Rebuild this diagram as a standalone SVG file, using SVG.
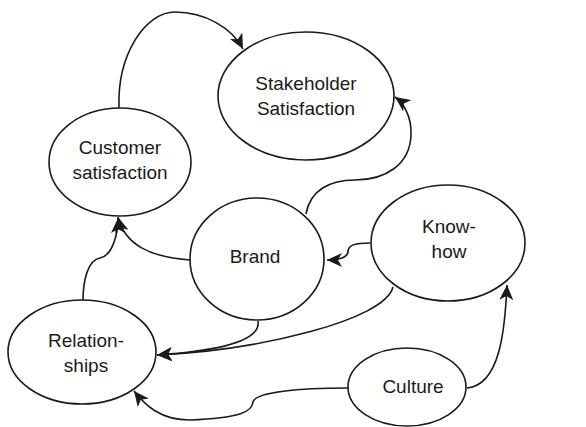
<svg xmlns="http://www.w3.org/2000/svg" width="586" height="427" viewBox="0 0 586 427">
<style>
.n{fill:#fff;stroke:#1a1a1a;stroke-width:1.6}
.t{font-family:"Liberation Sans",Arial,sans-serif;font-size:19px;fill:#1a1a1a;text-anchor:middle}
.c{fill:none;stroke:#1a1a1a;stroke-width:1.6;marker-end:url(#ah)}
.c0{fill:none;stroke:#1a1a1a;stroke-width:1.6}
</style>
<defs>
<marker id="ah" markerUnits="userSpaceOnUse" markerWidth="16" markerHeight="14" viewBox="0 0 16 14" refX="15" refY="7" orient="auto">
<path d="M0,0 L15,7 L0,14 L4,7 z" fill="#1a1a1a"/>
</marker>
</defs>
<rect width="586" height="427" fill="#fff"/>
<g id="connectors">
<path class="c" d="M119,108 C117,55 145,12 175,12 C205,12 232,28 243,49"/>
<path class="c" d="M306,214 C310,190 330,180 355,180 C385,180 410,165 411,135 C412,115 402,102 395,97"/>
<path class="c" d="M190,260 C150,257 125,245 118,217"/>
<path class="c" d="M83,301 C83,280 88,260 100,258 C112,256 118,235 118,218"/>
<path class="c" d="M370,243 C355,243 348,245 348,252 C347,258 340,260 327,260"/>
<path class="c" d="M258,321 C262,345 200,352 157,355"/>
<path class="c" d="M393,287 C385,320 260,350 157,355"/>
<path class="c" d="M467,388 C500,385 505,330 507,285"/>
<path class="c" d="M348,388 C300,388 255,392 253,402 C252,412 240,418 190,420 C160,420 145,405 134,391"/>
</g>
<g id="stakeholder">
<ellipse class="n" cx="306" cy="96" rx="88" ry="64"/>
<text class="t" x="306" y="90">Stakeholder</text>
<text class="t" x="306" y="115">Satisfaction</text>
</g>
<g id="customer">
<ellipse class="n" cx="120" cy="162" rx="71" ry="54"/>
<text class="t" x="120" y="154">Customer</text>
<text class="t" x="120" y="179">satisfaction</text>
</g>
<g id="brand">
<ellipse class="n" cx="257" cy="259" rx="67" ry="61"/>
<text class="t" x="255" y="263">Brand</text>
</g>
<g id="knowhow">
<ellipse class="n" cx="448" cy="243" rx="77" ry="58"/>
<text class="t" x="449" y="233">Know-</text>
<text class="t" x="449" y="258">how</text>
</g>
<g id="relationships">
<ellipse class="n" cx="82" cy="352" rx="74" ry="52"/>
<text class="t" x="86" y="347">Relation-</text>
<text class="t" x="86" y="372">ships</text>
</g>
<g id="culture">
<ellipse class="n" cx="407" cy="387" rx="59" ry="39"/>
<text class="t" x="413" y="393">Culture</text>
</g>
</svg>
